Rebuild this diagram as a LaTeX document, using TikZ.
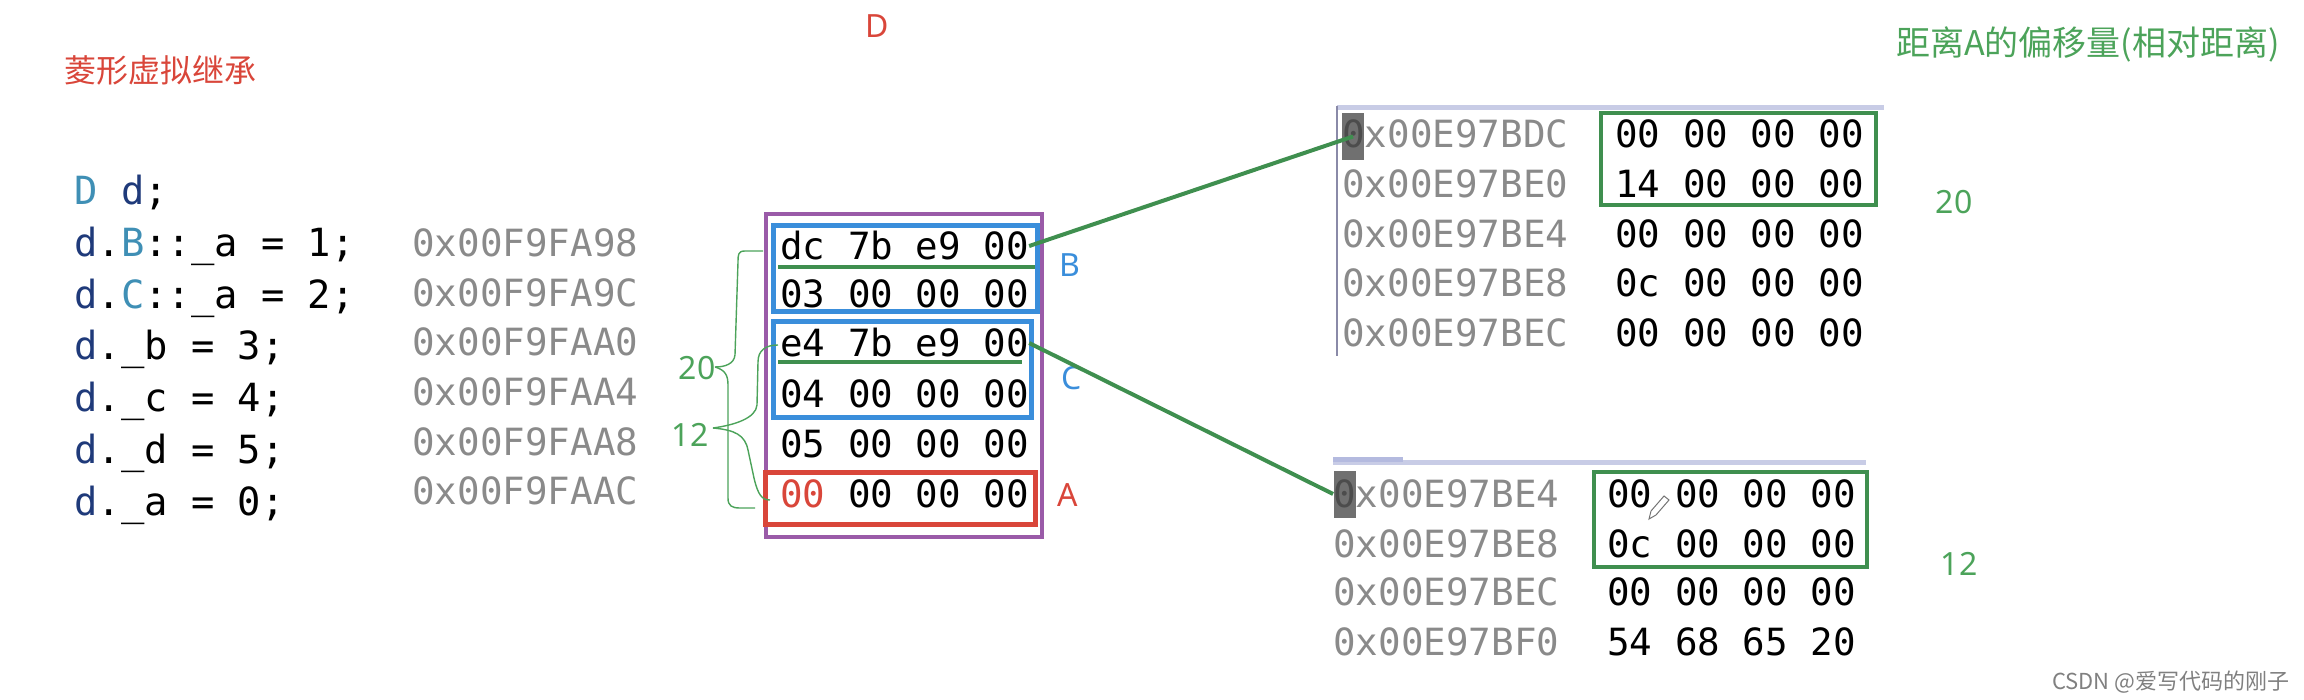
\documentclass[tikz,border=0pt]{standalone}
\usepackage{fontspec}
\setmainfont{Noto Sans}
\newfontfamily\monof{DejaVu Sans Mono}
\newfontfamily\cjk{Noto Sans CJK SC}
\definecolor{cteal}{HTML}{3F8FB5}
\definecolor{cnavy}{HTML}{1F3A7A}
\definecolor{caddr}{HTML}{8A8A8A}
\definecolor{cpurple}{HTML}{9A5BA8}
\definecolor{cblue}{HTML}{3A8EDB}
\definecolor{cred}{HTML}{D9463A}
\definecolor{cgreen}{HTML}{3F8F4F}
\definecolor{clgreen}{HTML}{4CA35A}
\definecolor{cbar}{HTML}{C8CCE6}
\definecolor{cbardark}{HTML}{B4BADF}
\definecolor{cvline}{HTML}{8A8AA8}
\definecolor{chl}{HTML}{707070}
\tikzset{
  code/.style={anchor=base west, inner sep=0pt, font=\monof\fontsize{18.75}{22}\selectfont},
  srccode/.style={code, font=\monof\fontsize{19.4}{23}\selectfont},
  addr/.style={code, text=caddr},
  lab/.style={inner sep=0pt, font=\fontsize{16}{19}\selectfont},
  gline/.style={draw=cgreen, line width=2pt},
  brace/.style={draw=clgreen, line width=0.7pt},
  hlbox/.style={fill=chl, inner sep=0pt, minimum width=11pt, minimum height=23.5pt}
}
\begin{document}
\begin{tikzpicture}[x=0.5pt,y=-0.5pt]
\useasboundingbox (0,0) rectangle (2304,700);

% titles
\node[inner sep=0pt, font=\cjk\fontsize{16}{19}\selectfont, text=cred] (title) at (160,70) {菱形虚拟继承};
\node[lab, text=cred] (labD) at (877,26) {D};
\node[inner sep=0pt, font=\cjk\fontsize{17}{20}\selectfont, text=clgreen] (title2) at (2088,44) {距离A的偏移量(相对距离)};

% code
\node[srccode] (l0) at (74,205) {{\color{cteal}D} {\color{cnavy}d};};
\node[srccode] (l1) at (74,257) {{\color{cnavy}d}.{\color{cteal}B}::\_a = 1;};
\node[srccode] (l2) at (74,309) {{\color{cnavy}d}.{\color{cteal}C}::\_a = 2;};
\node[srccode] (l3) at (74,360) {{\color{cnavy}d}.\_b = 3;};
\node[srccode] (l4) at (74,412) {{\color{cnavy}d}.\_c = 4;};
\node[srccode] (l5) at (74,464) {{\color{cnavy}d}.\_d = 5;};
\node[srccode] (l6) at (74,515) {{\color{cnavy}d}.\_a = 0;};

% addresses
\node[addr] (a1) at (412,257) {0x00F9FA98};
\node[addr] (a2) at (412,307) {0x00F9FA9C};
\node[addr] (a3) at (412,356) {0x00F9FAA0};
\node[addr] (a4) at (412,406) {0x00F9FAA4};
\node[addr] (a5) at (412,455) {0x00F9FAA8};
\node[addr] (a6) at (412,504) {0x00F9FAAC};

% memory of d
\node[code] (m1) at (780,260) {dc 7b e9 00};
\node[code] (m2) at (780,308) {03 00 00 00};
\node[code] (m3) at (780,357) {e4 7b e9 00};
\node[code] (m4) at (780,408) {04 00 00 00};
\node[code] (m5) at (780,458) {05 00 00 00};
\node[code] (m6) at (780,507) {{\color{cred}00} 00 00 00};

\draw[draw=cpurple, line width=2pt] (766,214) rectangle (1042,537);
\draw[draw=cblue, line width=2.5pt] (773,226) rectangle (1037,312);
\draw[draw=cblue, line width=2.5pt] (773,322) rectangle (1031,418);
\draw[draw=cred, line width=2.5pt] (765,472) rectangle (1035,524);
\draw[gline] (778,267) -- (1035,267);
\draw[gline] (778,362) -- (1022,362);

\node[lab, text=cblue] (labB) at (1070,265) {B};
\node[lab, text=cblue] (labC) at (1072,378) {C};
\node[lab, text=cred] (labA) at (1068,495) {A};

% braces
\node[lab, text=clgreen] (n20) at (697,368) {20};
\node[lab, text=clgreen] (n12) at (690,435) {12};
\draw[brace] (763,251) -- (745,251) .. controls (738,251) and (738,255) .. (738,262) -- (735,355) .. controls (734,364) and (725,367) .. (715,367);
\draw[brace] (715,367) .. controls (725,370) and (728,375) .. (728,385) -- (728,498) .. controls (728,506) and (732,508) .. (740,508) -- (755,508);
\draw[brace] (778,345) .. controls (766,345) and (758,350) .. (758,362) -- (757,405) .. controls (756,418) and (735,425) .. (713,428);
\draw[brace] (713,428) .. controls (735,430) and (745,435) .. (748,450) -- (754,478) .. controls (758,495) and (762,500) .. (770,500);

% upper memory panel
\draw[draw=cbar, line width=2.5pt] (1337,108) -- (1884,108);
\draw[draw=cvline, line width=1pt] (1337,106) -- (1337,356);
\node[hlbox] (hl1) at (1353,136.5) {};
\node[addr] (u1) at (1342,148) {{\color{black!70}0}x00E97BDC};
\node[addr] (u2) at (1342,198) {0x00E97BE0};
\node[addr] (u3) at (1342,248) {0x00E97BE4};
\node[addr] (u4) at (1342,297) {0x00E97BE8};
\node[addr] (u5) at (1342,347) {0x00E97BEC};
\node[code] (v1) at (1615,148) {00 00 00 00};
\node[code] (v2) at (1615,198) {14 00 00 00};
\node[code] (v3) at (1615,248) {00 00 00 00};
\node[code] (v4) at (1615,297) {0c 00 00 00};
\node[code] (v5) at (1615,347) {00 00 00 00};
\draw[draw=cgreen, line width=2pt] (1601,113) rectangle (1876,205);
\node[lab, text=clgreen] (r20) at (1954,202) {20};

% lower memory panel
\draw[draw=cbar, line width=2.5pt] (1333,462) -- (1866,462);
\draw[draw=cbardark, line width=2.5pt] (1333,459) -- (1403,459);
\node[hlbox] (hl2) at (1344.5,494) {};
\node[addr] (w1) at (1333,507) {{\color{black!70}0}x00E97BE4};
\node[addr] (w2) at (1333,557) {0x00E97BE8};
\node[addr] (w3) at (1333,605) {0x00E97BEC};
\node[addr] (w4) at (1333,655) {0x00E97BF0};
\node[code] (x1) at (1607,507) {00 00 00 00};
\node[code] (x2) at (1607,557) {0c 00 00 00};
\node[code] (x3) at (1607,605) {00 00 00 00};
\node[code] (x4) at (1607,655) {54 68 65 20};
\draw[draw=cgreen, line width=2pt] (1594,472) rectangle (1867,567);
\node[lab, text=clgreen] (r12) at (1959,564) {12};

% pencil cursor
\draw[black!55, line width=0.5pt] (1649,519) -- (1651,511) -- (1664,496) -- (1669,500) -- (1656,515) -- cycle;

% connectors
\draw[gline] (m1.east) -- (hl1.center);
\draw[gline] (m3.east) -- (hl2.west);

% watermark
\node[anchor=east, inner sep=0pt, font=\cjk\fontsize{11}{13}\selectfont, text=black!50] (wm) at (2290,682) {CSDN @爱写代码的刚子};
\end{tikzpicture}
\end{document}
